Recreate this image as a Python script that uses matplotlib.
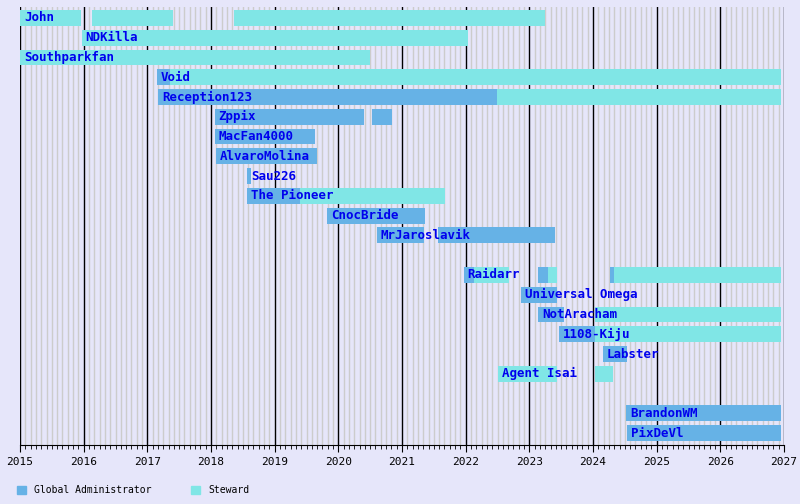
import matplotlib
matplotlib.use('Agg')
import matplotlib.pyplot as plt
from matplotlib.patches import Patch

#===============================================================================
# data: (name, [(start, end, role), ...]) ; role 'ga' = Global Administrator, 'st' = Steward
names = ["John", "NDKilla", "Southparkfan", "Void", "Reception123", "Zppix",
         "MacFan4000", "AlvaroMolina", "Sau226", "The Pioneer", "CnocBride",
         "MrJaroslavik", "", "Raidarr", "Universal Omega", "NotAracham",
         "1108-Kiju", "Labster", "Agent Isai", "", "BrandonWM", "PixDeVl"]
terms = [
    [(2015.00, 2015.96, 'st'), (2016.13, 2017.40, 'st'), (2018.36, 2023.25, 'st')],
    [(2015.97, 2022.04, 'st')],
    [(2015.00, 2020.50, 'st')],
    [(2017.15, 2017.36, 'ga'), (2017.36, 2026.95, 'st')],
    [(2017.17, 2022.49, 'ga'), (2022.49, 2026.95, 'st')],
    [(2018.06, 2020.40, 'ga'), (2020.53, 2020.84, 'ga')],
    [(2018.06, 2019.63, 'ga')],
    [(2018.08, 2019.66, 'ga')],
    [(2018.57, 2018.63, 'ga')],
    [(2018.57, 2019.40, 'ga'), (2019.40, 2021.68, 'st')],
    [(2019.82, 2021.36, 'ga')],
    [(2020.61, 2021.35, 'ga'), (2021.57, 2023.40, 'ga')],
    [],
    [(2021.97, 2022.13, 'ga'), (2022.13, 2022.68, 'st'), (2023.14, 2023.30, 'ga'),
     (2023.30, 2023.44, 'st'), (2024.27, 2024.33, 'ga'), (2024.33, 2026.95, 'st')],
    [(2022.87, 2023.44, 'ga')],
    [(2023.14, 2023.54, 'ga'), (2024.03, 2026.95, 'st')],
    [(2023.47, 2024.03, 'ga'), (2024.03, 2026.95, 'st')],
    [(2024.16, 2024.53, 'ga')],
    [(2022.51, 2023.44, 'st'), (2024.03, 2024.31, 'st')],
    [],
    [(2024.52, 2026.95, 'ga')],
    [(2024.53, 2026.95, 'ga')],
]
colors = {'ga': '#66b2e6', 'st': '#80e6e6'}
#===============================================================================
plt.rcParams['font.family'] = ['DejaVu Sans Mono']
fig = plt.figure(figsize=(8, 5.04), dpi=100)
fig.patch.set_facecolor('#e6e6fa')
ax = fig.add_axes([20/800, 1-445/504, 764/800, 438/504])
ax.set_facecolor('#e6e6fa')
ax.set_xlim(2015, 2027)
ax.set_ylim(len(names) - 0.5 + 0.1, -0.5 - 0.05)

for m in range(12*12 + 1):
    x = 2015 + m/12.0
    if m % 12 == 0:
        ax.axvline(x, color='black', lw=1, zorder=1)
    else:
        ax.axvline(x, color='#cccccc', lw=1, zorder=0)

for i, (name, tl) in enumerate(zip(names, terms)):
    for s, e, r in tl:
        ax.barh(i, e - s, left=s, height=0.8, color=colors[r], zorder=2)
    if tl:
        ax.text(tl[0][0] + 0.06, i, name, va='center', ha='left', color='#0000ee',
                fontsize=9, fontweight='bold', zorder=3)

ax.set_yticks([])
ax.set_xticks(range(2015, 2028))
ax.set_xticks([2015 + m/12.0 for m in range(145)], minor=True)
ax.tick_params(axis='x', which='major', length=5, labelsize=8)
ax.tick_params(axis='x', which='minor', length=3)
for sp in ['top', 'right', 'left']:
    ax.spines[sp].set_visible(False)

fig.legend(handles=[Patch(color=colors['ga'], label='Global Administrator'),
                    Patch(color=colors['st'], label='Steward')],
           loc='lower left', bbox_to_anchor=(0.01, 0.0), ncol=2, frameon=False,
           fontsize=7, handlelength=1, handleheight=1, columnspacing=4)
fig.savefig('out.png', facecolor=fig.get_facecolor())
